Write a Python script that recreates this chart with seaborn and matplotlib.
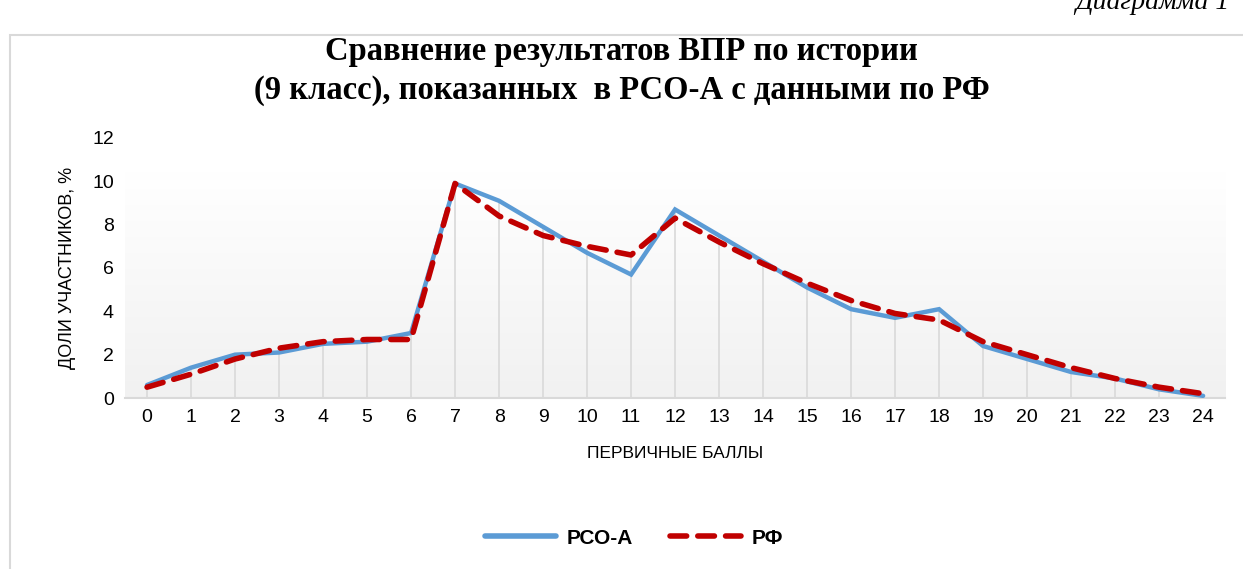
import numpy as np
import pandas as pd
import matplotlib
matplotlib.use("Agg")
import matplotlib.pyplot as plt
from matplotlib.lines import Line2D
from matplotlib.patches import Rectangle
import seaborn as sns

# data
scores = list(range(25))
rso_a = [0.6, 1.4, 2.0, 2.1, 2.5, 2.6, 3.0, 9.9, 9.1, 7.9, 6.7, 5.7, 8.7,
         7.5, 6.3, 5.1, 4.1, 3.7, 4.1, 2.4, 1.8, 1.2, 0.9, 0.4, 0.1]
rf = [0.5, 1.1, 1.8, 2.3, 2.6, 2.7, 2.7, 9.9, 8.4, 7.5, 7.0, 6.6, 8.3,
      7.2, 6.2, 5.3, 4.5, 3.9, 3.6, 2.6, 2.0, 1.4, 0.9, 0.5, 0.2]
yticks = [0, 2, 4, 6, 8, 10, 12]

title = "Сравнение результатов ВПР по истории\n(9 класс), показанных  в РСО-А с данными по РФ"
xlabel = "ПЕРВИЧНЫЕ БАЛЛЫ"
ylabel = "ДОЛИ УЧАСТНИКОВ, %"
names = ["РСО-А", "РФ"]

df = pd.DataFrame({"score": scores, "rso": rso_a, "rf": rf})

sns.set_theme(style="white")
plt.rcParams["font.family"] = ["Liberation Sans", "DejaVu Sans"]
plt.rcParams["text.color"] = "black"

fig = plt.figure(figsize=(12.43, 5.69), dpi=100)
ax = fig.add_axes([0.1006, 0.3005, 0.885, 0.457])

# chart border
fig.patches.append(Rectangle((10 / 1243, -0.1), 1.2, 1 - 35 / 569 + 0.1,
                             transform=fig.transFigure, fill=False,
                             edgecolor="#d9d9d9", lw=1.5))

# gradient background in plot area
grad = np.linspace(0, 1, 256).reshape(-1, 1)
cmap = matplotlib.colors.LinearSegmentedColormap.from_list("g", ["#f1f1f1", "#ffffff"])
ax.imshow(grad, extent=(-0.5, 24.5, 0, 10.4), origin="lower", aspect="auto",
          cmap=cmap, zorder=0)

# drop lines
ax.vlines(df["score"], 0, np.maximum(df["rso"], df["rf"]), color="#d9d9d9",
          lw=1.2, zorder=1)

sns.lineplot(data=df, x="score", y="rso", ax=ax, color="#5b9bd5", lw=3.2,
             zorder=3, solid_joinstyle="miter")
sns.lineplot(data=df, x="score", y="rf", ax=ax, color="#c00000", lw=4,
             zorder=4, dashes=False)
ax.lines[-1].set_dashes([3, 2])
ax.lines[-1].set_dash_capstyle("round")

ax.set_xlim(-0.5, 24.5)
ax.set_ylim(0, 12)
ax.set_xticks(scores)
ax.set_yticks(yticks)
ax.tick_params(axis="both", labelsize=14, colors="black", length=0, pad=8)
for s in ["top", "right", "left"]:
    ax.spines[s].set_visible(False)
ax.spines["bottom"].set_color("#d9d9d9")
ax.spines["bottom"].set_linewidth(1.5)
ax.set_facecolor("none")
ax.grid(False)

ax.set_xlabel(xlabel, fontsize=12.5, color="black", labelpad=14)
ax.set_ylabel(ylabel, fontsize=13, color="black", labelpad=12)

fig.text(0.5, 0.875, title, ha="center", va="center", fontsize=23.5,
         fontweight="bold", family="Liberation Serif", linespacing=1.3,
         color="black")
fig.text(1075 / 1243, 0.995, "Диаграмма 1", ha="left", va="center",
         fontsize=20, style="italic", family="Liberation Serif")

handles = [Line2D([], [], color="#5b9bd5", lw=4, solid_capstyle="round"),
           Line2D([], [], color="#c00000", lw=4, dashes=[3, 2],
                  dash_capstyle="round")]
leg = fig.legend(handles, names, loc="center", bbox_to_anchor=(0.51, 1 - 538 / 569),
                 ncol=2, frameon=False, handlelength=3.4, columnspacing=1.8,
                 handletextpad=0.5, prop={"size": 15, "weight": "bold"})

fig.savefig("out.png", dpi=100)
